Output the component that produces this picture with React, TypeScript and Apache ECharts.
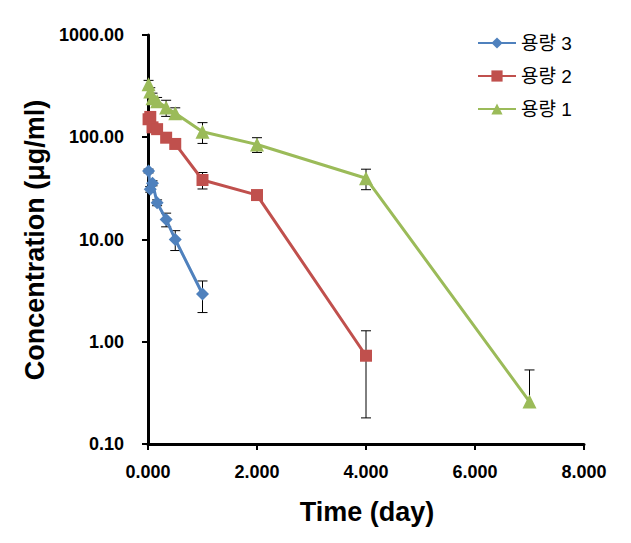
import React, { useEffect, useRef } from "react";
import * as echarts from "echarts";

// Times in days
const times3 = [0.0104, 0.0417, 0.083, 0.167, 0.333, 0.5, 1];
const dose3 = [46.8, 31, 35.5, 22.9, 15.7, 10.0, 2.93];
const sd3 = [2, 2, 2, 1.5, 2.4, 2.2, 1.0];

const times2 = [0.0104, 0.0417, 0.083, 0.167, 0.333, 0.5, 1, 2, 4];
const dose2 = [150, 158, 125, 120, 99, 86, 38.2, 27.2, 0.73];
const sd2 = [10, 10, 8, 8, 8, 6, 7, 2.5, 0.55];

const times1 = [0.0104, 0.0417, 0.083, 0.167, 0.333, 0.5, 1, 2, 4, 7];
const dose1 = [330, 280, 240, 225, 195, 172, 113, 85, 39.7, 0.26];
const sd1 = [30, 25, 30, 20, 35, 22, 26, 14, 9, 0.27];

const seriesNames = ["용량 3", "용량 2", "용량 1"];
const xTicks = { min: 0, max: 8, interval: 2 };
const yRange = { min: 0.1, max: 1000 };

const FONT = "'Liberation Sans', Arial, 'Noto Sans CJK KR', sans-serif";

function errData(t: number[], v: number[], sd: number[]) {
  return t.map((x, i) => {
    const lo = v[i] - sd[i];
    const hasLo = lo > 0 ? 1 : 0;
    return [x, hasLo ? lo : v[i], v[i] + sd[i], hasLo];
  });
}

function errSeries(data: number[][]) {
  return {
    type: "custom",
    silent: true,
    z: 1,
    data,
    encode: { x: 0, y: [1, 2] },
    renderItem: (params: any, api: any) => {
      const x = api.value(0);
      const lo = api.value(1);
      const hi = api.value(2);
      const hasLo = api.value(3);
      const pHi = api.coord([x, hi]);
      const pLo = api.coord([x, lo]);
      const w = 5;
      const style = { stroke: "#000", lineWidth: 1 };
      const children: any[] = [
        { type: "line", shape: { x1: pLo[0], y1: pLo[1], x2: pHi[0], y2: pHi[1] }, style },
        { type: "line", shape: { x1: pHi[0] - w, y1: pHi[1], x2: pHi[0] + w, y2: pHi[1] }, style },
      ];
      if (hasLo) {
        children.push({ type: "line", shape: { x1: pLo[0] - w, y1: pLo[1], x2: pLo[0] + w, y2: pLo[1] }, style });
      }
      return { type: "group", children };
    },
  };
}

function zip(t: number[], v: number[]) {
  return t.map((x, i) => [x, v[i]]);
}

export default function App() {
  const ref = useRef<HTMLDivElement>(null);
  useEffect(() => {
    if (!ref.current) return;
    const chart = echarts.init(ref.current, null, { renderer: "svg" });
    chart.setOption({
      animation: false,
      backgroundColor: "#fff",
      grid: { left: 148, right: 47, top: 35, bottom: 99 },
      legend: {
        data: seriesNames,
        orient: "vertical",
        left: 472,
        top: 28,
        itemWidth: 38,
        itemHeight: 14,
        itemGap: 13,
        textStyle: { fontFamily: FONT, fontSize: 19, lineHeight: 20, color: "#000" },
      },
      xAxis: {
        type: "value",
        min: xTicks.min,
        max: xTicks.max,
        interval: xTicks.interval,
        splitLine: { show: false },
        axisLine: { lineStyle: { color: "#000", width: 3 } },
        axisTick: { show: true, length: 6, lineStyle: { color: "#000", width: 2 } },
        axisLabel: {
          margin: 19,
          fontFamily: FONT,
          fontWeight: "bold",
          fontSize: 18,
          color: "#000",
          formatter: (v: number) => v.toFixed(3),
        },
      },
      yAxis: {
        type: "log",
        logBase: 10,
        min: yRange.min,
        max: yRange.max,
        splitLine: { show: false },
        axisLine: { show: true, lineStyle: { color: "#000", width: 3 } },
        axisTick: { show: true, length: 6, lineStyle: { color: "#000", width: 2 } },
        axisLabel: {
          margin: 24,
          fontFamily: FONT,
          fontWeight: "bold",
          fontSize: 18,
          color: "#000",
          formatter: (v: number) => Number(v).toFixed(2),
        },
      },
      graphic: [
        {
          type: "text",
          x: 35,
          y: 240,
          rotation: Math.PI / 2,
          style: {
            text: "Concentration (μg/ml)",
            fontFamily: FONT,
            fontWeight: "bold",
            fontSize: 27,
            fill: "#000",
            textAlign: "center",
            textVerticalAlign: "middle",
          },
        },
        {
          type: "text",
          x: 367,
          y: 512,
          style: {
            text: "Time (day)",
            fontFamily: FONT,
            fontWeight: "bold",
            fontSize: 27,
            fill: "#000",
            textAlign: "center",
            textVerticalAlign: "middle",
          },
        },
      ],
      series: [
        errSeries(errData(times1, dose1, sd1)),
        errSeries(errData(times2, dose2, sd2)),
        errSeries(errData(times3, dose3, sd3)),
        {
          name: seriesNames[2],
          type: "line",
          z: 3,
          data: zip(times1, dose1),
          symbol: "triangle",
          symbolSize: 14,
          color: "#9BBB59",
          lineStyle: { width: 3, color: "#9BBB59" },
          itemStyle: { color: "#9BBB59" },
        },
        {
          name: seriesNames[1],
          type: "line",
          z: 4,
          data: zip(times2, dose2),
          symbol: "rect",
          symbolSize: 12,
          color: "#C0504D",
          lineStyle: { width: 3, color: "#C0504D" },
          itemStyle: { color: "#C0504D" },
        },
        {
          name: seriesNames[0],
          type: "line",
          z: 5,
          data: zip(times3, dose3),
          symbol: "diamond",
          symbolSize: 13,
          color: "#4F81BD",
          lineStyle: { width: 3, color: "#4F81BD" },
          itemStyle: { color: "#4F81BD" },
        },
      ],
    });
    return () => chart.dispose();
  }, []);
  return (
    <div
      ref={ref}
      style={{ position: "fixed", left: 0, top: 0, width: 631, height: 543, background: "#fff" }}
    />
  );
}
